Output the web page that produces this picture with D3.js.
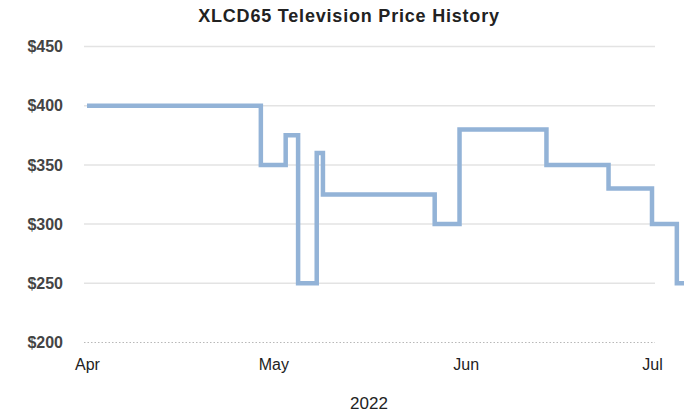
<!DOCTYPE html>
<html>
<head>
<meta charset="utf-8">
<script src="https://cdn.jsdelivr.net/npm/d3@7"></script>
<style>
  body { margin: 0; background: #fff; }
  svg { display: block; font-family: "Liberation Sans", Arial, sans-serif; }
</style>
</head>
<body>
<div id="vis-container"></div>
<script>
// Price change dates and the price that holds from each date on
const dates = ["2022-04-01", "2022-04-29", "2022-05-03", "2022-05-05", "2022-05-08", "2022-05-09",
               "2022-05-27", "2022-05-31", "2022-06-14", "2022-06-24", "2022-07-01", "2022-07-05", "2022-07-12"];
const prices = [400, 350, 375, 250, 360, 325, 300, 380, 350, 330, 300, 250, 250];

// Axis ticks
const yTicks = [200, 250, 300, 350, 400, 450];
const monthTicks = ["2022-04-01", "2022-05-01", "2022-06-01", "2022-07-01"];

const width = 684;
const height = 413;

const parse = d3.timeParse("%Y-%m-%d");
const data = dates.map((d, i) => ({ date: parse(d), price: prices[i] }));

const svg = d3.select("#vis-container")
  .append("svg")
  .attr("width", width)
  .attr("height", height);

// Scales
const x = d3.scaleTime()
  .domain([parse("2022-04-01"), parse("2022-07-01")])
  .range([87, 652]);

const y = d3.scaleLinear()
  .domain([200, 450])
  .range([342.5, 46.5]);

const gridLeft = 84, gridRight = 655;

// Title
svg.append("text")
  .attr("x", 349)
  .attr("y", 22)
  .attr("text-anchor", "middle")
  .attr("font-size", "18px")
  .attr("font-weight", "bold")
  .attr("letter-spacing", "0.8px")
  .attr("fill", "#222")
  .text("XLCD65 Television Price History");

// Gridlines (bottom one dotted like the baseline)
svg.append("g")
  .selectAll("line")
  .data(yTicks)
  .join("line")
    .attr("x1", gridLeft)
    .attr("x2", gridRight)
    .attr("y1", d => y(d))
    .attr("y2", d => y(d))
    .attr("stroke", d => d === 200 ? "#b8b8b8" : "#e3e3e3")
    .attr("stroke-width", d => d === 200 ? 1 : 1.5)
    .attr("stroke-dasharray", d => d === 200 ? "1.5,2" : null);

// Y axis labels
svg.append("g")
  .call(d3.axisLeft(y).tickValues(yTicks).tickFormat(d => "$" + d).tickSize(0).tickPadding(0))
  .attr("transform", "translate(63,0)")
  .call(g => g.select(".domain").remove())
  .call(g => g.selectAll("text")
    .attr("font-family", "'Liberation Sans', Arial, sans-serif")
    .attr("font-size", "16px")
    .attr("font-weight", "bold")
    .attr("fill", "#444"));

// X axis labels
svg.append("g")
  .attr("transform", "translate(0,359)")
  .call(d3.axisBottom(x).tickValues(monthTicks.map(parse)).tickFormat(d3.timeFormat("%b")).tickSize(0).tickPadding(0))
  .call(g => g.select(".domain").remove())
  .call(g => g.selectAll("text")
    .attr("font-family", "'Liberation Sans', Arial, sans-serif")
    .attr("font-size", "16px")
    .attr("fill", "#222"));

// X axis title
svg.append("text")
  .attr("x", 369)
  .attr("y", 409)
  .attr("text-anchor", "middle")
  .attr("font-size", "17px")
  .attr("fill", "#222")
  .text("2022");

// Step line
const line = d3.line()
  .x(d => x(d.date))
  .y(d => y(d.price))
  .curve(d3.curveStepAfter);

svg.append("path")
  .datum(data)
  .attr("d", line)
  .attr("fill", "none")
  .attr("stroke", "#93b3d7")
  .attr("stroke-width", 4.5)
  .attr("stroke-linejoin", "miter");
</script>
</body>
</html>
